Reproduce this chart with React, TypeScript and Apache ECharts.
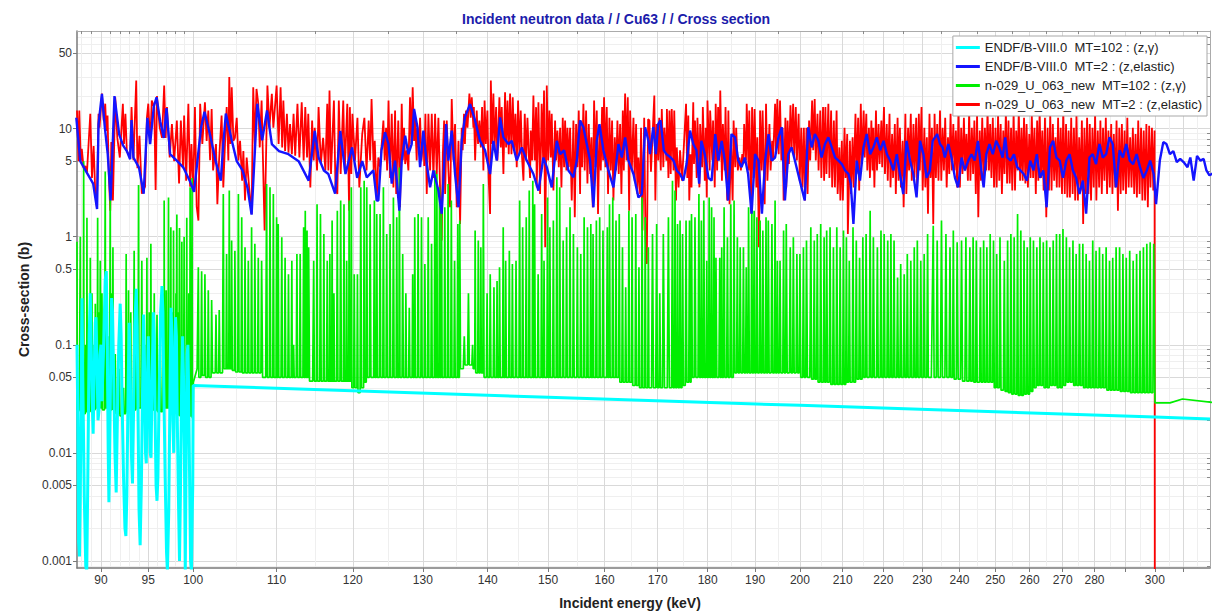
import { useEffect, useRef } from 'react';
import * as echarts from 'echarts';

// ---------- axis ticks ----------
const xLabelTicks = [90, 95, 100, 110, 120, 130, 140, 150, 160, 170, 180, 190, 200, 210, 220, 230, 240, 250, 260, 270, 280, 300];
const xLineTicks = [90, 95, 100, 110, 120, 130, 140, 150, 160, 170, 180, 190, 200, 210, 220, 230, 240, 250, 260, 270, 280, 290, 300, 310];
const xMinorTicks = [88, 89, 91, 92, 93, 94, 96, 97, 98, 99, 105, 115, 125, 135, 145, 155, 165, 175, 185, 195, 205, 215, 225, 235, 245, 255, 265, 275, 285, 295, 305, 315];
const yLabelTicks = [0.001, 0.005, 0.01, 0.05, 0.1, 0.5, 1, 5, 10, 50];
const yMinorTicks = [0.0009, 0.002, 0.003, 0.004, 0.006, 0.007, 0.008, 0.009, 0.02, 0.03, 0.04, 0.06, 0.07, 0.08, 0.09, 0.2, 0.3, 0.4, 0.6, 0.7, 0.8, 0.9, 2, 3, 4, 6, 7, 8, 9, 20, 30, 40, 60, 70];

// ---------- series names ----------
const nameCyan = 'ENDF/B-VIII.0  MT=102 : (z,γ)';
const nameBlue = 'ENDF/B-VIII.0  MT=2 : (z,elastic)';
const nameGreen = 'n-029_U_063_new  MT=102 : (z,γ)';
const nameRed = 'n-029_U_063_new  MT=2 : (z,elastic)';

// ---------- ENDF/B-VIII.0 MT=102 (cyan) ----------
const cyanResolved = [[87.57,0.1],[87.65,0.02],[87.73,0.0015],[87.82,0.0011],[87.9,0.004],[88.0,0.05],[88.07,0.27],[88.15,0.05],[88.3,0.004],[88.45,0.0009],[88.55,0.0008],[88.65,0.005],[88.8,0.12],[88.91,0.3],[89.0,0.1],[89.1,0.03],[89.2,0.015],[89.3,0.05],[89.42,0.16],[89.5,0.18],[89.6,0.06],[89.7,0.02],[89.8,0.025],[89.9,0.08],[90.0,0.1],[90.1,0.03],[90.25,0.08],[90.44,0.4],[90.55,0.48],[90.65,0.1],[90.75,0.01],[90.82,0.0035],[90.9,0.01],[91.0,0.06],[91.1,0.27],[91.2,0.2],[91.3,0.06],[91.45,0.01],[91.58,0.0043],[91.7,0.02],[91.85,0.1],[92.0,0.24],[92.1,0.12],[92.2,0.03],[92.35,0.006],[92.5,0.002],[92.6,0.0017],[92.7,0.004],[92.85,0.05],[92.95,0.16],[93.05,0.06],[93.2,0.009],[93.3,0.0052],[93.4,0.02],[93.55,0.15],[93.7,0.33],[93.8,0.15],[93.9,0.02],[94.0,0.003],[94.12,0.0014],[94.25,0.005],[94.4,0.05],[94.49,0.19],[94.6,0.06],[94.7,0.01],[94.78,0.008],[94.9,0.04],[95.0,0.12],[95.1,0.04],[95.2,0.01],[95.3,0.009],[95.4,0.04],[95.55,0.2],[95.65,0.12],[95.75,0.02],[95.85,0.005],[95.95,0.0036],[96.05,0.006],[96.2,0.04],[96.35,0.2],[96.5,0.35],[96.6,0.2],[96.7,0.04],[96.85,0.006],[97.0,0.0012],[97.1,0.0008],[97.25,0.003],[97.4,0.05],[97.5,0.22],[97.6,0.12],[97.7,0.02],[97.8,0.01],[97.9,0.05],[98.0,0.18],[98.1,0.12],[98.2,0.02],[98.35,0.003],[98.45,0.001],[98.55,0.004],[98.7,0.05],[98.8,0.12],[98.9,0.05],[99.0,0.01],[99.1,0.0008],[99.2,0.01],[99.3,0.08],[99.4,0.1],[99.5,0.03],[99.6,0.005],[99.7,0.001],[99.8,0.0008],[99.9,0.003],[99.95,0.005],[100.0,0.042]];
const cyanSmooth = [[150,0.0327],[200,0.0275],[250,0.024],[300,0.0215],[319.5,0.0206]];

// ---------- ENDF/B-VIII.0 MT=2 (blue) ----------
const blueA = [[87.5,12.6],[87.9,5.0],[88.57,3.9],[89.2,3.1],[89.6,1.8],[89.75,11],[90.1,21],[90.4,10.2],[90.7,5.8],[91.0,2.16],[91.4,20],[91.9,8.8],[92.3,7.0],[92.7,6.2],[93.05,5.2],[93.2,12.0],[93.4,5.4],[94.0,4.35],[94.5,2.5],[94.9,12.6],[95.2,7.2],[95.6,16],[95.9,19.5],[96.3,11.7],[96.7,8.2],[97.0,15.5],[97.4,5.8],[98.2,5.0],[98.9,4.35],[99.6,3.3],[100.1,2.6],[100.9,10.2],[101.3,14.3],[101.9,9.1],[102.6,5.0],[103.2,3.3],[103.5,7.2],[103.8,13.8],[104.5,7.8],[105.1,5.0],[105.8,4.1],[106.4,2.84],[106.9,1.6],[107.6,17],[108.2,7.8],[108.8,14.7],[109.4,7.2],[110.3,6.2],[111.5,5.8],[112.8,5.0],[114.1,3.3],[114.9,9.5],[115.4,5.4],[116.1,4.1],[116.7,3.8],[117.6,2.5],[118.3,9.5],[119.0,3.8],[119.9,6.7],[120.6,3.5],[121.3,5.0]];
const blueB = [[121.93,3.54],[122.86,4.1],[123.33,2.16],[123.56,2.16],[124.0,6.3],[124.5,9.25],[125.0,7.2],[125.46,3.1],[125.94,5.06],[126.56,1.74],[126.9,5.06],[127.4,8.6],[127.87,5.8],[128.35,7.2],[128.7,15.2],[129.2,10.3],[129.59,4.4],[130.08,9.6],[130.58,4.7],[131.08,2.86],[131.58,4.1],[132.33,2.67],[132.83,1.63],[133.5,11.0],[133.85,5.06],[134.36,9.6],[134.87,3.8],[135.4,1.87],[135.9,7.7],[136.4,12.7],[137.21,16.9],[137.99,11.9],[138.78,7.7],[139.57,6.3],[140.38,3.8],[140.91,7.7],[141.45,5.06],[141.99,12.7],[142.53,8.3],[143.35,7.2],[143.9,7.7],[144.72,5.06],[145.55,6.7],[146.38,5.06],[147.5,3.8],[148.35,2.67],[149.2,5.4],[149.77,4.4],[150.62,2.86],[151.49,7.7],[152.07,5.8],[152.76,6.3],[153.52,4.1],[154.4,3.54],[154.99,5.06],[155.58,11.9],[156.17,10.3],[156.77,7.2],[157.37,5.06],[157.97,1.87],[158.57,7.7],[159.06,11.0],[159.78,6.3],[160.7,4.1],[161.62,2.86],[162.55,7.2],[163.17,5.4],[163.79,8.3],[164.42,5.06],[165.36,3.8],[166.3,2.31],[166.94,2.48],[167.58,10.3],[168.22,7.7]];
const blueC = [[168.5,5.8],[169.15,10.3],[169.65,5.8],[170.1,11.0],[170.55,11.9],[171.2,6.3],[171.7,5.8],[172.55,5.4],[173.1,5.06],[173.75,4.1],[174.4,3.8],[175.05,3.3],[175.7,4.7],[176.4,9.6],[177.05,7.2],[177.7,6.3],[178.25,3.1],[178.7,7.7],[179.4,5.8],[180.15,3.5],[180.8,3.3],[181.55,8.9],[182.2,5.06],[182.9,7.7],[183.55,5.06],[184.25,2.16],[184.95,8.9],[185.7,8.3],[186.4,5.06],[187.1,4.4],[187.8,5.4],[188.5,3.8],[189.25,1.63],[190.0,5.8],[190.75,5.06],[191.5,1.63],[192.2,5.06],[192.95,8.9],[193.65,5.06],[194.4,5.4],[195.15,8.3],[195.9,10.3],[196.6,2.16],[197.35,5.8],[198.1,6.7],[198.85,5.06],[199.6,3.8],[200.35,2.86],[201.1,2.16],[201.9,10.3],[202.7,6.7],[203.45,8.9],[204.25,7.7],[205.0,5.4],[205.8,7.2],[206.6,8.3],[207.4,6.7],[208.2,5.4],[209.0,5.06],[209.8,4.7],[210.6,4.1],[211.4,3.8],[211.95,3.1],[212.6,1.31],[213.4,5.06],[214.2,3.3],[215.05,6.7],[215.85,8.9],[216.7,5.8],[217.5,6.7],[218.35,8.3],[219.2,6.3],[220.05,7.7],[220.9,5.8],[221.7,5.06],[222.55,4.1],[223.4,5.8],[224.2,3.8],[225.05,2.48],[225.9,7.7],[226.8,5.06],[227.65,3.8],[228.5,2.31],[229.4,7.7],[230.3,5.8],[231.15,3.5],[232.0,4.1]];
const blueD = [[232.75,7.7],[233.35,8.3],[233.95,8.9],[234.7,7.2],[235.4,6.7],[236.0,5.4],[236.95,7.2],[237.8,5.4],[238.75,3.5],[239.6,2.86],[240.55,5.4],[241.45,4.1],[242.4,5.06],[243.3,5.8],[244.2,5.06],[245.1,7.7],[246.05,4.1],[246.7,2.86],[247.45,5.8],[248.35,7.2],[249.3,5.8],[250.25,7.7],[251.15,6.7],[252.1,5.4],[252.85,8.3],[253.5,5.4],[254.45,5.06],[255.4,5.8],[256.35,4.4],[257.3,4.1],[258.25,3.8],[259.2,3.3],[260.2,5.06],[261.15,4.1],[262.15,5.8],[263.1,3.5],[264.1,4.1],[265.1,1.87],[266.1,6.7],[267.1,7.7],[268.1,5.4],[269.1,5.06],[270.1,3.5],[271.15,5.06],[272.15,5.8],[273.2,4.1],[274.2,3.5],[275.25,2.48],[276.3,3.3],[277.35,1.63],[278.4,5.4],[279.45,5.8],[280.5,4.7],[281.6,7.2],[282.65,5.4],[283.75,5.8],[284.85,8.3],[285.9,7.2],[287.0,2.86],[288.15,6.3],[289.25,5.4],[290.35,7.2],[291.5,5.06],[292.65,4.7],[293.8,5.8],[294.95,4.4],[296.1,3.5],[297.25,4.1],[298.4,5.06],[299.6,3.8],[300.4,2.0],[301.7,5.06],[302.9,7.5],[304.0,7.2],[305.2,5.8],[306.4,6.2],[307.6,4.9],[308.8,5.24],[310.0,4.9],[311.4,4.4],[312.4,5.4],[313.6,3.3],[314.8,5.6],[316.0,5.06],[317.2,5.24],[318.2,4.1],[319.3,3.7],[321,3.9]];

// ---------- n-029_U_063_new MT=102 (green): resonance peaks and the baseline between them ----------
const greenA = [[87.57,0.9],[87.65,0.025],[87.9,1.0],[87.97,0.024],[88.05,0.2],[88.15,0.023],[88.24,5.0],[88.32,0.023],[88.45,0.1],[88.5,0.024],[88.57,1.5],[88.65,0.024],[88.78,0.15],[88.85,0.024],[88.91,0.64],[89.0,0.025],[89.08,0.3],[89.2,0.024],[89.3,0.1],[89.35,0.025],[89.42,0.24],[89.55,0.026],[89.66,1.5],[89.75,0.028],[89.85,0.2],[89.9,0.026],[89.93,0.6],[90.02,0.026],[90.1,0.3],[90.25,0.025],[90.44,4.0],[90.55,0.026],[90.7,0.12],[90.8,0.024],[90.96,4.0],[91.05,0.025],[91.15,0.3],[91.2,0.026],[91.24,0.8],[91.35,0.025],[91.48,0.082],[91.7,0.023],[91.9,0.06],[92.1,0.022],[92.35,0.04],[92.5,0.023],[92.63,0.69],[92.72,0.024],[92.88,0.32],[92.95,0.024],[93.12,0.2],[93.25,0.024],[93.48,0.74],[93.6,0.025],[93.7,0.15],[93.8,0.026],[93.95,3.0],[94.05,0.026],[94.3,0.6],[94.45,0.025],[94.6,0.1],[94.7,0.025],[94.85,0.64],[94.95,0.026],[95.1,0.2],[95.2,0.026],[95.28,0.86],[95.4,0.025],[95.5,0.15],[95.55,0.025],[95.65,0.3],[95.75,0.025],[95.95,0.19],[96.1,0.024],[96.3,0.08],[96.45,0.024],[96.6,0.3],[96.68,0.025],[96.74,2.16],[96.85,0.026],[96.96,0.32],[97.05,0.026],[97.22,2.3],[97.3,0.026],[97.48,1.22],[97.55,0.025],[97.65,0.2],[97.7,0.025],[97.78,1.14],[97.9,0.024],[98.05,0.3],[98.1,0.023],[98.15,1.6],[98.25,0.023],[98.35,0.2],[98.4,0.022],[98.45,1.2],[98.55,0.022],[98.71,0.9],[98.8,0.022],[98.97,1.0],[99.1,0.022],[99.27,1.5],[99.35,0.022],[99.5,0.3],[99.55,0.022],[99.65,2.86],[99.75,0.022],[99.87,3.5],[99.95,0.021],[100.02,0.045]];
const greenB = [[100.45,0.06],[100.59,0.52],[100.75,0.05],[100.97,0.48],[101.15,0.052],[101.35,0.45],[101.55,0.05],[101.74,0.32],[101.95,0.05],[102.13,0.26],[102.4,0.055],[102.64,0.19],[102.85,0.055],[103.02,0.21],[103.25,0.055],[103.5,2.48],[103.7,0.06],[103.89,0.69],[104.05,0.06],[104.21,2.67],[104.35,0.06],[104.49,0.92],[104.7,0.058],[104.88,0.74],[105.1,0.056],[105.3,2.48],[105.5,0.056],[105.7,1.51],[105.9,0.055],[106.1,0.8],[106.3,0.055],[106.5,0.6],[106.7,0.055],[106.9,1.22],[107.1,0.055],[107.3,0.86],[107.5,0.055],[107.72,0.64],[107.9,0.055],[108.13,0.6],[108.45,0.05],[108.75,3.08],[108.95,0.05],[109.17,2.86],[109.4,0.05],[109.59,2.48],[109.8,0.05],[110.0,1.51],[110.1,0.05],[110.2,1.31],[110.4,0.05],[110.65,0.99],[110.85,0.05],[111.07,0.64],[111.3,0.05],[111.5,0.45],[111.7,0.05],[111.93,0.6],[112.05,0.05],[112.15,0.1],[112.35,0.05],[112.58,0.69],[112.8,0.05],[113.0,0.69],[113.2,0.05],[113.45,1.22],[113.55,0.05],[113.66,1.74],[113.78,0.05],[113.89,1.14],[114.0,0.05],[114.1,0.8],[114.4,0.046],[114.76,0.6],[115.0,0.046],[115.2,2.0],[115.4,0.046],[115.65,1.62],[115.9,0.046],[116.1,1.06],[116.3,0.046],[116.55,0.6],[116.75,0.046],[116.9,0.69],[117.05,0.046],[117.2,1.41],[117.32,0.046],[117.44,0.3],[117.65,0.046],[117.9,1.74],[118.1,0.046],[118.35,2.16],[118.6,0.046],[118.8,2.0],[119.0,0.046],[119.16,0.6],[119.35,0.046],[119.5,2.16],[119.65,0.046],[119.8,2.86],[120.0,0.04],[120.2,0.45],[120.45,0.04],[120.64,0.45],[120.85,0.036],[121.1,2.86],[121.35,0.04],[121.57,3.3],[121.75,0.045]];
const greenC = [[121.93,2.86],[122.15,0.05],[122.4,2.0],[122.7,0.05],[123.0,2.16],[123.15,0.05],[123.33,1.62],[123.55,0.05],[123.8,1.62],[124.05,0.05],[124.27,2.86],[124.5,0.05],[124.74,1.06],[124.98,0.05],[125.22,1.31],[125.45,0.05],[125.7,2.31],[125.95,0.05],[126.18,1.51],[126.4,0.05],[126.56,4.37],[126.8,0.05],[127.04,0.69],[127.3,0.05],[127.5,0.3],[127.75,0.05],[128.0,0.22],[128.25,0.05],[128.5,0.45],[128.65,0.05],[128.8,1.51],[129.05,0.05],[129.3,1.62],[129.55,0.05],[129.8,1.51],[130.05,0.05],[130.3,0.56],[130.55,0.05],[130.8,1.51],[131.05,0.05],[131.3,0.86],[131.55,0.05],[131.8,4.09],[131.95,0.05],[132.1,3.8],[132.3,0.05],[132.5,2.86],[132.65,0.05],[132.8,2.0],[133.05,0.05],[133.3,1.87],[133.55,0.05],[133.8,3.08],[134.05,0.05],[134.3,2.16],[134.55,0.05],[134.8,0.6],[135.05,0.05],[135.3,1.31],[135.45,0.05],[135.6,1.41],[135.9,0.06],[136.3,0.12],[136.6,0.065],[136.95,0.3],[137.3,0.065],[137.6,0.1],[137.85,0.06],[138.0,1.14],[138.25,0.055],[138.5,0.92],[138.7,0.055],[138.9,0.8],[139.1,0.055],[139.3,3.08],[139.6,0.05],[139.9,0.3],[140.15,0.05],[140.4,0.45],[140.7,0.05],[141.0,0.34],[141.25,0.05],[141.5,0.39],[141.7,0.05],[141.9,0.52],[142.2,0.05],[142.5,1.22],[142.7,0.05],[142.9,0.6],[143.2,0.05],[143.5,0.74],[143.75,0.05],[144.0,0.56],[144.3,0.05],[144.6,0.6],[144.9,0.05],[145.2,2.16],[145.45,0.05],[145.7,1.22],[146.0,0.05],[146.3,1.51],[146.55,0.05],[146.8,2.67],[147.1,0.05],[147.4,3.3],[147.55,0.05],[147.7,2.0],[148.0,0.05],[148.3,0.45],[148.6,0.05],[148.9,1.62],[149.1,0.05],[149.3,0.6],[149.6,0.05],[149.9,2.31],[150.1,0.05],[150.3,1.22],[150.6,0.05],[150.9,1.41],[151.2,0.05],[151.5,3.54],[151.75,0.05],[152.0,2.86],[152.3,0.05],[152.6,0.92],[152.9,0.05],[153.2,1.22],[153.5,0.05],[153.8,1.87],[154.1,0.05],[154.4,1.06],[154.75,0.05],[155.1,0.8],[155.4,0.05],[155.7,0.69],[156.0,0.05],[156.3,1.51],[156.6,0.05],[156.9,1.22],[157.2,0.05],[157.5,1.31],[157.7,0.05],[157.9,1.06],[158.2,0.05],[158.5,1.41],[158.8,0.05],[159.1,1.51],[159.4,0.05],[159.7,1.14],[160.1,0.05],[160.5,1.22],[160.7,0.05],[160.9,2.0],[161.2,0.05],[161.5,2.31],[161.8,0.05],[162.1,1.41],[162.4,0.05],[162.7,1.62],[163.0,0.045],[163.3,0.8],[163.6,0.045],[163.9,0.34],[164.2,0.045],[164.5,1.74],[164.8,0.045],[165.1,1.51],[165.45,0.042],[165.8,1.62],[166.1,0.042],[166.4,0.52],[166.7,0.04],[167.0,2.31],[167.3,0.04],[167.6,1.51],[167.9,0.04],[168.2,0.8],[168.5,0.04]];
const greenD = [[169.0,1.06],[169.4,0.04],[169.8,1.31],[170.1,0.04],[170.4,0.3],[170.75,0.04],[171.1,1.06],[171.6,0.04],[172.1,1.51],[172.5,0.04],[172.9,3.3],[173.15,0.04],[173.4,2.67],[173.65,0.04],[173.9,1.31],[174.15,0.04],[174.4,1.41],[174.65,0.04],[174.9,1.06],[175.25,0.042],[175.6,1.41],[175.95,0.045],[176.3,1.41],[176.5,0.045],[176.7,1.62],[177.05,0.05],[177.4,1.51],[177.8,0.05],[178.2,2.48],[178.45,0.05],[178.7,1.41],[178.95,0.05],[179.2,2.16],[179.5,0.05],[179.8,0.6],[180.05,0.05],[180.3,2.31],[180.55,0.05],[180.8,1.87],[181.05,0.05],[181.3,1.51],[181.5,0.05],[181.7,0.64],[182.1,0.05],[182.5,0.64],[182.7,0.05],[182.9,0.8],[183.15,0.05],[183.4,1.87],[183.75,0.05],[184.1,0.99],[184.45,0.05],[184.8,2.0],[185.15,0.05],[185.5,2.16],[185.85,0.055],[186.2,0.99],[186.5,0.055],[186.8,0.8],[187.15,0.055],[187.5,0.8],[187.8,0.055],[188.1,0.52],[188.35,0.055],[188.6,1.87],[188.95,0.055],[189.3,2.0],[189.55,0.055],[189.8,1.74],[190.1,0.055],[190.4,1.51],[190.75,0.055],[191.1,1.41],[191.4,0.055],[191.7,1.14],[192.05,0.055],[192.4,1.51],[192.65,0.055],[192.9,1.41],[193.3,0.055],[193.7,1.31],[194.05,0.055],[194.4,2.16],[194.65,0.055],[194.9,0.6],[195.2,0.055],[195.5,0.6],[195.9,0.055],[196.3,1.14],[196.6,0.055],[196.9,1.31],[197.35,0.055],[197.8,0.8],[198.15,0.055],[198.5,0.99],[198.9,0.055],[199.3,0.69],[199.65,0.055],[200.0,0.69],[200.4,0.05],[200.8,0.8],[201.15,0.05],[201.5,0.92],[202.0,0.05],[202.5,1.22],[202.9,0.048],[203.3,0.92],[203.65,0.048],[204.0,1.06],[204.4,0.045],[204.8,1.31],[205.2,0.045],[205.6,0.99],[205.9,0.045],[206.2,1.14],[206.6,0.045],[207.0,1.22],[207.4,0.043],[207.8,0.8],[208.2,0.043],[208.6,1.22],[209.0,0.043],[209.4,0.8],[209.8,0.043],[210.2,1.14],[210.55,0.043],[210.9,0.99],[211.25,0.045],[211.6,0.6],[212.05,0.045],[212.5,1.22],[212.9,0.045],[213.3,0.92],[213.7,0.048],[214.1,0.64],[214.5,0.048],[214.9,0.99],[215.3,0.05],[215.7,1.06],[216.2,0.05],[216.7,1.74],[217.1,0.05],[217.5,0.99],[218.0,0.05],[218.5,0.8],[218.95,0.05],[219.4,1.14],[219.8,0.05],[220.2,1.06],[220.65,0.05],[221.1,0.92],[221.5,0.05],[221.9,1.06],[222.3,0.05],[222.7,0.92],[223.15,0.05],[223.6,0.42],[224.0,0.05],[224.4,0.56],[224.85,0.05],[225.3,0.45],[225.7,0.05],[226.1,0.69],[226.55,0.05],[227.0,0.6],[227.45,0.05],[227.9,0.8],[228.3,0.05],[228.7,0.92],[229.15,0.05],[229.6,0.6],[230.05,0.05],[230.5,0.69],[230.95,0.05],[231.4,1.06],[231.8,0.05]];
const greenE = [[232.9,1.26],[233.4,0.05],[233.95,0.92],[234.5,0.05],[235.1,1.41],[235.7,0.05],[236.3,1.06],[236.85,0.05],[237.4,0.8],[237.85,0.05],[238.3,1.14],[238.8,0.048],[239.35,0.89],[239.95,0.048],[240.55,0.92],[241.15,0.046],[241.75,0.99],[242.3,0.046],[242.85,0.8],[243.3,0.046],[243.75,0.99],[244.2,0.045],[244.65,0.92],[245.2,0.045],[245.8,0.8],[246.25,0.045],[246.7,0.92],[247.15,0.045],[247.6,0.8],[248.1,0.045],[248.55,1.06],[249.0,0.045],[249.5,0.92],[249.95,0.04],[250.4,0.69],[250.9,0.04],[251.35,0.99],[252.0,0.038],[252.6,0.6],[253.1,0.037],[253.55,0.92],[254.0,0.036],[254.5,1.06],[255.0,0.035],[255.45,0.99],[255.95,0.035],[256.45,1.62],[256.9,0.034],[257.4,1.14],[257.9,0.034],[258.35,0.92],[258.8,0.035],[259.3,0.8],[259.75,0.035],[260.2,0.99],[260.7,0.037],[261.15,0.92],[261.65,0.04],[262.15,0.8],[262.6,0.042],[263.1,0.99],[263.6,0.042],[264.1,0.89],[264.6,0.04],[265.1,0.92],[265.6,0.04],[266.1,0.8],[266.6,0.042],[267.1,0.92],[267.6,0.042],[268.1,1.06],[268.6,0.04],[269.1,1.06],[269.6,0.04],[270.1,1.18],[270.6,0.042],[271.15,0.99],[271.65,0.045],[272.15,0.8],[272.7,0.045],[273.2,0.92],[273.7,0.042],[274.2,0.69],[274.7,0.042],[275.25,0.86],[275.8,0.042],[276.3,0.86],[276.8,0.04],[277.35,0.69],[277.9,0.04],[278.4,0.6],[278.9,0.04],[279.45,0.92],[280.0,0.04],[280.5,0.74],[281.05,0.04],[281.6,0.8],[282.1,0.04],[282.65,0.69],[283.2,0.04],[283.75,0.8],[284.3,0.038],[284.85,0.6],[285.4,0.038],[285.9,0.64],[286.45,0.038],[287.0,0.8],[287.55,0.038],[288.15,0.8],[288.7,0.037],[289.25,0.69],[289.8,0.037],[290.35,0.64],[290.9,0.037],[291.5,0.74],[292.05,0.036],[292.65,0.6],[293.2,0.036],[293.8,0.69],[294.35,0.036],[294.95,0.74],[295.5,0.036],[296.1,0.8],[296.7,0.036],[297.25,0.86],[297.8,0.036],[298.4,0.89],[299.0,0.036],[299.6,0.86],[300.0,0.035],[300.1,0.029],[309.6,0.0315],[322,0.029]];

// ---------- n-029_U_063_new MT=2 (red) ----------
const redA = [[87.57,14.7],[87.73,5.0],[87.8,14.7],[87.95,5.0],[88.05,6.5],[88.24,4.3],[88.4,4.5],[88.57,3.9],[88.91,13.7],[89.08,3.5],[89.25,6.9],[89.42,2.5],[89.58,1.9],[89.75,13.7],[89.85,10.2],[90.0,15.8],[90.1,21.1],[90.28,11.9],[90.44,17.0],[90.55,9.5],[90.68,13.2],[90.8,4.1],[90.96,1.74],[91.07,7.5],[91.24,2.16],[91.48,19.5],[91.7,8.2],[91.96,5.4],[92.28,17.0],[92.4,7.2],[92.55,13.7],[92.7,6.2],[93.05,5.4],[93.2,15.8],[93.4,5.1],[93.7,27.8],[93.83,4.3],[94.05,8.6],[94.3,2.5],[94.65,2.9],[94.85,12.6],[95.0,17.0],[95.2,7.2],[95.38,18.2],[95.65,15.8],[95.8,2.7],[95.95,20.0],[96.25,10.2],[96.5,8.2],[96.74,25.0],[96.9,8.2],[97.05,15.8],[97.35,5.4],[97.6,11.0],[97.85,5.0],[98.15,11.9],[98.4,3.1],[98.6,11.9],[98.85,4.3],[98.97,13.2],[99.2,3.3],[99.45,17.0],[99.65,2.9],[99.8,7.2],[100.0,2.67],[100.2,15.8],[100.4,1.9],[100.6,1.41],[100.8,17.0],[101.05,7.2],[101.35,17.5],[101.55,7.7],[101.74,14.7],[101.95,5.1],[102.13,15.2],[102.3,4.1],[102.64,7.2],[102.8,2.0],[103.0,5.1],[103.3,13.2],[103.5,2.86],[103.7,7.2],[103.9,15.8],[104.1,5.06],[104.21,30],[104.35,7.2],[104.5,24.1],[104.7,7.7],[104.88,8.2],[105.1,12.6],[105.3,5.06],[105.5,7.7],[105.75,3.3],[105.9,6.2],[106.1,2.16],[106.3,5.4],[106.6,2.86],[106.9,1.62],[107.1,24.1],[107.3,7.2],[107.5,23.3],[107.72,17.0],[107.9,6.7],[108.13,18.2],[108.3,5.06],[108.5,1.14],[108.85,25.0],[109.1,10.2],[109.4,21],[109.59,10.2],[110.0,25.0],[110.25,7.2],[110.5,24.1],[110.7,6.7],[110.85,18.2],[111.07,6.2],[111.3,13.7],[111.5,6.0],[111.7,11.0],[111.93,5.8],[112.15,13.7],[112.36,5.6],[112.65,17.0],[112.9,5.4],[113.2,17.5],[113.45,5.06],[113.66,15.8],[113.89,5.4],[114.05,13.7],[114.32,2.86],[114.55,11.9],[114.76,5.06],[114.9,10.2],[115.2,4.1],[115.4,15.8],[115.7,4.7],[116.0,8.2],[116.3,4.1],[116.55,17.0],[116.7,4.1],[116.85,22.5],[117.05,3.8],[117.44,18.2],[117.65,2.86],[117.9,2.48],[118.1,18.2],[118.35,3.8],[118.7,18.2],[118.9,4.1],[119.25,17.0],[119.5,1.74],[119.6,15.8],[119.8,3.8],[119.95,13.7],[120.3,5.06],[120.64,12.6],[120.9,2.86],[121.1,5.06],[121.3,8.9],[121.6,12.6],[121.9,4.1]];
const redB = [[122.2,11.9],[122.4,5.06],[122.6,18.8],[122.9,4.1],[123.05,7.7],[123.33,2.16],[123.55,5.4],[123.8,4.4],[124.27,11.9],[124.45,5.06],[124.65,10.2],[124.8,4.1],[125.0,18.2],[125.22,3.5],[125.46,13.7],[125.7,2.86],[125.94,14.7],[126.1,2.48],[126.4,11.9],[126.66,1.87],[126.9,17.0],[127.05,5.06],[127.24,10.2],[127.4,4.7],[127.63,6.3],[127.87,4.1],[128.11,19.5],[128.3,7.2],[128.5,24.1],[128.7,7.7],[128.85,12.6],[129.09,5.06],[129.2,10.2],[129.4,6.7],[129.59,12.6],[129.8,5.06],[130.1,9.0],[130.2,4.5],[130.38,13.7],[130.58,2.48],[130.83,13.7],[131.08,4.1],[131.33,13.7],[131.58,3.5],[131.83,13.7],[132.08,3.8],[132.33,12.6],[132.58,2.86],[132.83,0.92],[133.0,5.8],[133.2,11.9],[133.35,2.48],[133.6,11.9],[133.85,4.1],[134.11,1.87],[134.36,18.8],[134.62,5.06],[134.87,11.0],[135.13,1.87],[135.4,7.7],[135.65,1.31],[135.9,10.2],[136.05,6.3],[136.26,13.7],[136.4,7.2],[136.57,14.7],[136.8,10.2],[137.1,21.1],[137.3,12.6],[137.47,19.5],[137.73,10.2],[137.8,15.8],[138.0,5.06],[138.25,14.7],[138.46,7.2],[138.67,11.9],[138.9,6.7],[139.1,15.8],[139.31,4.1],[139.5,18.2],[139.7,7.2],[139.95,14.7],[140.15,3.5],[140.38,1.62],[140.5,27.8],[140.7,7.2],[140.91,21.1],[141.1,6.3],[141.35,15.8],[141.56,5.06],[141.88,19.5],[142.1,6.7],[142.26,15.8],[142.53,3.8],[142.8,21.7],[142.97,6.7],[143.2,18.2],[143.4,5.8],[143.62,21.1],[143.85,5.8],[144.06,19.5],[144.3,6.3],[144.5,13.7],[144.72,4.4],[144.94,18.2],[145.16,5.8],[145.38,14.7],[145.6,5.4],[145.83,3.3],[146.05,13.7],[146.27,5.06],[146.5,12.6],[146.72,5.8],[146.94,3.5],[147.05,9.6],[147.28,5.06],[147.5,20.2],[147.72,5.06],[147.95,15.8],[148.06,2.86],[148.35,17.5],[148.63,2.48],[148.9,17.0],[149.15,5.06],[149.3,22.5],[149.5,0.8],[149.77,25.0],[150.0,5.06],[150.22,14.7],[150.45,5.4],[150.62,13.7],[150.91,2.67],[151.2,11.9],[151.37,5.06],[151.6,9.6],[151.84,4.4],[152.07,10.2],[152.3,2.86],[152.53,12.6],[152.76,4.4],[152.94,11.9],[153.17,4.1],[153.35,10.2],[153.58,4.4],[153.81,10.2],[154.1,2.16],[154.4,11.9],[154.64,1.51],[154.87,11.0],[155.1,4.4],[155.34,14.7],[155.58,2.48],[155.7,11.9],[155.93,4.4],[156.17,17.0],[156.4,4.1],[156.65,14.7],[156.89,3.1],[157.13,11.0],[157.37,3.8],[157.61,8.3],[157.85,1.87],[158.09,18.2],[158.33,4.4],[158.57,14.7],[158.8,1.62],[159.06,10.2],[159.3,4.1],[159.54,15.8],[159.72,5.06],[159.9,19.5],[160.15,4.4],[160.39,15.8],[160.63,2.48],[160.88,12.6],[161.13,4.1],[161.37,11.9],[161.62,2.16],[161.87,8.3],[162.12,4.1],[162.36,11.9],[162.6,3.8],[162.86,11.0],[163.1,2.48],[163.36,14.7],[163.55,4.1],[163.79,21.1],[164.04,5.06],[164.29,19.5],[164.55,1.74],[164.73,14.7],[165.05,4.1],[165.36,12.6],[165.6,3.3],[165.86,11.0],[166.1,2.48],[166.3,5.4],[166.62,2.48],[166.8,10.2],[167.07,1.14],[167.4,12.6],[167.65,0.99],[167.9,0.56],[168.15,12.2],[168.4,11.9],[168.7,4.0]];
const redC = [[169.35,20.2],[169.55,2.16],[169.8,11.0],[170.1,5.06],[170.3,12.6],[170.6,4.1],[170.8,15.2],[171.1,4.4],[171.3,10.2],[171.7,5.06],[171.8,15.2],[172.1,3.5],[172.3,14.7],[172.55,3.8],[172.75,15.2],[173.1,4.1],[173.25,14.7],[173.6,2.16],[173.75,6.7],[174.1,2.86],[174.4,6.3],[174.8,3.3],[175.6,17.0],[175.85,3.5],[176.05,13.2],[176.25,2.16],[176.5,5.8],[176.7,2.86],[177.05,17.5],[177.2,4.7],[177.4,11.9],[177.75,3.5],[177.9,12.6],[178.3,2.86],[178.45,11.0],[178.85,4.4],[179.0,15.8],[179.4,3.3],[179.6,10.2],[179.8,2.3],[179.95,18.2],[180.4,4.1],[180.5,14.7],[180.95,5.06],[181.1,11.9],[181.45,2.86],[181.65,17.0],[181.95,4.1],[182.15,15.8],[182.4,5.06],[182.6,22.5],[182.95,3.3],[183.15,11.0],[183.5,4.1],[183.7,15.8],[184.05,2.16],[184.3,14.7],[184.55,2.0],[184.85,7.2],[185.2,2.16],[185.4,11.9],[185.75,4.4],[185.95,10.2],[186.3,4.1],[186.65,5.4],[186.95,4.1],[187.25,5.8],[187.5,4.7],[187.65,11.0],[188.05,5.06],[188.2,17.0],[188.6,4.1],[188.75,14.7],[189.2,1.63],[189.35,15.8],[189.7,3.5],[189.9,15.2],[190.3,2.86],[190.5,8.3],[190.85,0.8],[191.1,14.7],[191.45,4.1],[191.65,14.7],[192.1,2.0],[192.4,17.0],[192.7,3.3],[193.15,11.0],[193.4,4.1],[193.75,7.7],[193.95,5.06],[194.4,17.0],[194.6,6.3],[194.9,18.8],[195.2,5.8],[195.5,18.2],[195.8,5.06],[196.1,10.2],[196.3,2.16],[196.7,12.6],[196.9,2.86],[197.2,11.9],[197.5,4.7],[197.85,16.4],[198.1,6.3],[198.45,17.0],[198.7,5.4],[199.05,15.8],[199.3,5.06],[199.7,13.7],[199.95,3.3],[200.3,10.2],[200.55,2.86],[200.9,10.2],[201.15,2.16],[201.5,10.2],[201.75,2.48],[202.1,11.9],[202.35,5.06],[202.8,18.2],[203.05,6.3],[203.4,18.8],[203.65,5.06],[204.05,13.7],[204.3,4.1],[204.7,14.7],[204.95,3.5],[205.35,15.8],[205.6,3.3],[205.9,15.8],[206.15,3.8],[206.6,17.0],[206.85,3.5],[207.25,14.7],[207.5,2.86],[207.9,11.9],[208.15,2.86],[208.55,14.7],[208.8,2.48],[209.2,6.7],[209.45,2.16],[209.8,7.7],[210.05,2.16],[210.45,10.2],[210.7,3.5],[211.1,8.9],[211.25,1.06],[211.75,7.7],[212.0,2.48],[212.4,8.3],[212.65,2.86],[213.1,13.7],[213.35,3.8],[213.75,12.6],[214.0,2.67],[214.4,17.0],[214.65,4.7],[215.1,14.7],[215.35,5.4],[215.75,13.7],[216.0,4.1],[216.4,10.2],[216.65,3.5],[217.0,11.9],[217.3,4.1],[217.5,10.2],[217.75,2.86],[218.15,14.7],[218.4,4.1],[218.8,11.0],[219.05,4.7],[219.5,11.9],[219.7,4.4],[220.15,15.8],[220.4,3.8],[220.85,11.0],[221.1,3.3],[221.55,13.7],[221.8,2.86],[222.2,8.9],[222.45,3.5],[222.9,11.0],[223.15,2.48],[223.6,12.6],[223.85,3.3],[224.2,10.2],[224.45,2.86],[224.9,7.7],[225.15,1.87],[225.6,13.7],[225.85,2.48],[226.3,10.2],[226.55,4.1],[227.0,13.7],[227.25,3.3],[227.7,11.0],[227.95,3.5],[228.4,12.6],[228.65,2.86],[229.1,13.7],[229.35,4.1],[229.8,15.8],[230.1,2.67],[230.55,10.2],[230.8,2.86],[231.2,8.3],[231.5,1.63],[231.9,13.7]];
const redD = [[232.2,3.5],[232.55,10.2],[232.9,1.31],[233.25,13.7],[233.6,3.5],[233.95,11.0],[234.3,3.3],[234.7,14.7],[235.05,3.3],[235.4,10.2],[235.75,4.1],[236.1,12.6],[236.5,2.86],[236.85,8.3],[237.2,3.8],[237.55,13.7],[237.9,4.1],[238.3,11.0],[238.65,4.1],[239.0,9.6],[239.35,2.86],[239.7,14.7],[240.1,2.86],[240.45,10.2],[240.8,3.8],[241.2,12.6],[241.55,4.1],[241.9,8.9],[242.3,3.3],[242.65,14.7],[243.0,3.3],[243.4,10.2],[243.75,3.8],[244.1,11.9],[244.5,2.48],[244.85,13.7],[245.2,1.51],[245.6,9.6],[245.95,3.3],[246.3,12.6],[246.7,3.3],[247.05,10.2],[247.45,4.1],[247.8,14.7],[248.2,4.1],[248.55,11.0],[248.9,3.5],[249.3,12.6],[249.65,2.86],[250.05,10.2],[250.4,2.86],[250.8,13.7],[251.15,3.3],[251.55,11.0],[251.9,2.48],[252.3,9.6],[252.65,3.8],[253.05,14.7],[253.4,3.1],[253.8,11.9],[254.15,3.1],[254.55,10.2],[254.9,2.67],[255.3,13.7],[255.7,2.67],[256.05,9.6],[256.45,4.1],[256.8,14.7],[257.2,3.3],[257.6,10.2],[257.95,3.3],[258.35,12.6],[258.75,3.1],[259.1,11.0],[259.5,2.86],[259.9,8.9],[260.3,3.5],[260.65,13.7],[261.05,3.5],[261.45,10.2],[261.85,2.48],[262.25,11.9],[262.6,3.3],[263.0,14.7],[263.4,3.5],[263.8,9.6],[264.2,2.67],[264.6,12.6],[265.0,1.51],[265.4,10.2],[265.8,2.67],[266.2,13.7],[266.6,2.67],[267.0,11.0],[267.4,3.3],[267.8,8.3],[268.2,2.86],[268.6,12.6],[269.0,2.86],[269.4,10.2],[269.8,2.48],[270.2,14.7],[270.65,2.48],[271.05,11.0],[271.45,2.3],[271.85,9.6],[272.25,2.3],[272.65,12.6],[273.1,2.48],[273.5,10.2],[273.9,2.16],[274.3,13.7],[274.75,2.16],[275.15,8.3],[275.55,2.67],[276.0,11.9],[276.4,1.31],[276.8,10.2],[277.25,2.48],[277.65,12.6],[278.1,2.48],[278.5,11.0],[278.9,2.16],[279.35,10.2],[279.75,2.86],[280.2,13.7],[280.6,2.16],[281.05,9.6],[281.5,2.86],[281.9,11.9],[282.35,2.48],[282.75,10.2],[283.2,3.3],[283.65,12.6],[284.05,2.48],[284.5,9.6],[284.95,2.86],[285.4,11.0],[285.8,2.48],[286.25,8.9],[286.7,2.86],[287.15,11.9],[287.6,1.74],[288.05,10.2],[288.5,2.48],[288.9,11.0],[289.35,2.67],[289.8,9.6],[290.25,2.48],[290.7,12.6],[291.15,2.86],[291.65,8.3],[292.1,2.86],[292.55,10.2],[293.0,2.48],[293.45,8.9],[293.9,2.3],[294.35,11.9],[294.8,2.48],[295.3,10.2],[295.75,2.16],[296.2,9.6],[296.65,2.16],[297.1,11.0],[297.6,1.87],[298.05,10.6],[298.5,2.86],[299.0,10.2],[299.45,2.67],[299.9,9.6],[300.0,0.00001]];

const FONT = 'Liberation Sans, Arial, Helvetica, sans-serif';

function fmtY(v: number) {
  return String(parseFloat(Number(v).toPrecision(2)));
}

// Resonances are narrow: a read baseline value between two read peaks is held
// across the gap, and the line only climbs to each peak close to its energy.
function narrowResonances(pts: number[][], kOf: (e: number) => number) {
  const out: number[][] = [];
  for (let i = 0; i < pts.length; i++) {
    const p = pts[i];
    const prev = pts[i - 1];
    const next = pts[i + 1];
    if (prev && next && p[1] < prev[1] && p[1] < next[1]) {
      const k = kOf(p[0]);
      out.push([prev[0] + (p[0] - prev[0]) * k, p[1]]);
      out.push([next[0] - (next[0] - p[0]) * k, p[1]]);
    } else {
      out.push(p);
    }
  }
  return out;
}

export default function App() {
  const ref = useRef<HTMLDivElement>(null);

  useEffect(() => {
    const el = ref.current;
    if (!el) return;
    const chart = echarts.init(el, null, { renderer: 'svg' });

    const cyanData = [...cyanResolved, ...cyanSmooth];
    const blueData = [...blueA, ...blueB, ...blueC, ...blueD];
    const greenData = narrowResonances(
      [...greenA, ...greenB, ...greenC, ...greenD, ...greenE],
      (e) => (e < 168.8 ? 0.38 : 0.46),
    );
    const redData = [...redA, ...redB, ...redC, ...redD];

    const xMin = 87.57;
    const xMax = 319.5;
    const yMin = 0.00086;
    const yMax = 80;

    const lineSeries = (name: string, data: number[][], color: string, width: number, z: number) => ({
      type: 'line',
      name,
      data,
      xAxisIndex: 0,
      yAxisIndex: 0,
      showSymbol: false,
      symbol: 'none',
      clip: true,
      silent: true,
      z,
      lineStyle: { color, width },
      itemStyle: { color },
      emphasis: { disabled: true },
    });

    chart.setOption({
      animation: false,
      backgroundColor: '#ffffff',
      textStyle: { fontFamily: FONT },
      title: {
        text: 'Incident neutron data / / Cu63 / / Cross section',
        left: 457,
        top: 7,
        textStyle: { fontSize: 14, fontWeight: 'bold', color: '#1c1cab', fontFamily: FONT },
      },
      legend: {
        data: [nameCyan, nameBlue, nameGreen, nameRed],
        orient: 'vertical',
        right: 11,
        top: 36,
        icon: 'rect',
        itemWidth: 24,
        itemHeight: 3,
        itemGap: 4,
        padding: [4, 5, 4, 3],
        backgroundColor: '#ffffff',
        borderColor: '#a8a8a8',
        borderWidth: 1,
        selectedMode: false,
        textStyle: { fontSize: 13, color: '#222222', fontFamily: FONT, lineHeight: 15 },
      },
      grid: { left: 77, right: 8, top: 31, bottom: 43, containLabel: false, outerBoundsMode: 'none' },
      xAxis: [
        {
          type: 'log',
          logBase: 10,
          min: xMin,
          max: xMax,
          position: 'bottom',
          name: 'Incident energy (keV)',
          nameLocation: 'middle',
          nameGap: 28,
          nameTextStyle: { fontSize: 14, fontWeight: 'bold', color: '#222222', fontFamily: FONT, padding: [0, 27, 0, 0] },
          axisLine: { show: true, onZero: false, lineStyle: { color: '#7a7a7a', width: 1.5 } },
          axisTick: { show: true, customValues: xLineTicks, length: 4, lineStyle: { color: '#7a7a7a' } },
          axisLabel: {
            show: true,
            customValues: xLabelTicks,
            margin: 6,
            fontSize: 12,
            color: '#333333',
            fontFamily: FONT,
            formatter: (v: number) => String(Math.round(v)),
          },
          splitLine: { show: true, lineStyle: { color: '#d9d9d9', width: 1 } },
        },
        {
          type: 'log',
          logBase: 10,
          min: xMin,
          max: xMax,
          position: 'top',
          axisLine: { show: true, onZero: false, lineStyle: { color: '#ababab', width: 1 } },
          axisTick: { show: true, inside: true, customValues: xMinorTicks, length: 3, lineStyle: { color: '#8a8a8a' } },
          axisLabel: { show: false },
          splitLine: { show: true, lineStyle: { color: '#efefef', width: 1 } },
        },
      ],
      yAxis: [
        {
          type: 'log',
          logBase: 10,
          min: yMin,
          max: yMax,
          position: 'left',
          name: 'Cross-section (b)',
          nameLocation: 'middle',
          nameGap: 37,
          nameTextStyle: { fontSize: 14, fontWeight: 'bold', color: '#222222', fontFamily: FONT },
          axisLine: { show: true, onZero: false, lineStyle: { color: '#7a7a7a', width: 1.5 } },
          axisTick: { show: true, customValues: yLabelTicks, length: 4, lineStyle: { color: '#7a7a7a' } },
          axisLabel: {
            show: true,
            customValues: yLabelTicks,
            margin: 5,
            fontSize: 12,
            color: '#333333',
            fontFamily: FONT,
            formatter: (v: number) => fmtY(v),
          },
          splitLine: { show: true, lineStyle: { color: '#d9d9d9', width: 1 } },
        },
        {
          type: 'log',
          logBase: 10,
          min: yMin,
          max: yMax,
          position: 'right',
          axisLine: { show: true, onZero: false, lineStyle: { color: '#ababab', width: 1 } },
          axisTick: { show: true, inside: true, customValues: yMinorTicks, length: 3, lineStyle: { color: '#8a8a8a' } },
          axisLabel: { show: false },
          splitLine: { show: true, lineStyle: { color: '#efefef', width: 1 } },
        },
      ],
      series: [
        lineSeries(nameRed, redData, '#ff0000', 1.8, 2),
        lineSeries(nameGreen, greenData, '#00ee00', 1.7, 3),
        lineSeries(nameBlue, blueData, '#1414ff', 2.4, 4),
        lineSeries(nameCyan, cyanData, '#00ffff', 3, 5),
      ],
    });

    return () => {
      chart.dispose();
    };
  }, []);

  return (
    <div
      ref={ref}
      style={{ position: 'fixed', left: 0, top: 0, width: 1218, height: 611, background: '#ffffff' }}
    />
  );
}
